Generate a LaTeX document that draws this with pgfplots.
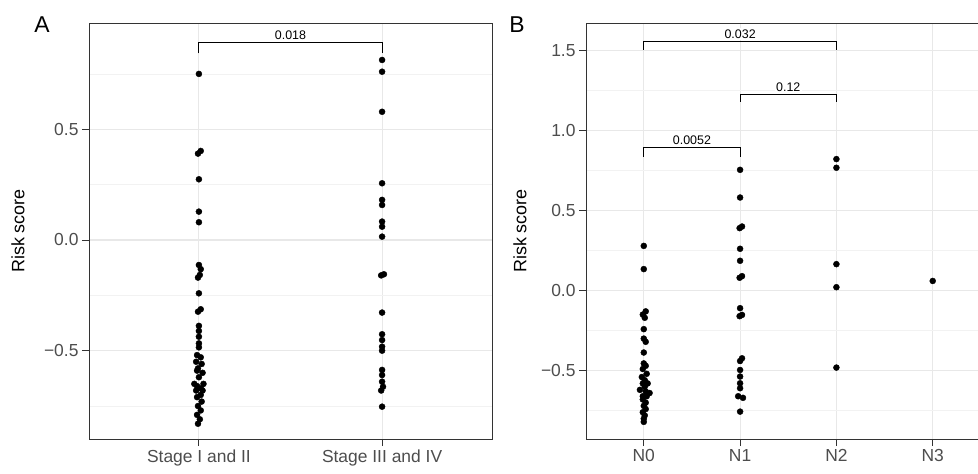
\documentclass[border=0pt]{standalone}
\usepackage{fontspec}
\setmainfont{Liberation Sans}
\usepackage{pgfplots}
\pgfplotsset{compat=1.18}
\definecolor{gridmaj}{RGB}{232,232,232}
\definecolor{gridmin}{RGB}{242,242,242}
\definecolor{tickgray}{RGB}{77,77,77}
\definecolor{border}{RGB}{51,51,51}
\pgfplotsset{
  rsk/.style={
    scale only axis, height=416bp,
    axis line style={border, line width=0.9bp},
    tick style={border, line width=0.9bp},
    major tick length=7bp,
    minor tick length=0pt,
    tick align=outside,
    xtick pos=bottom, ytick pos=left,
    xmajorgrids, ymajorgrids, yminorgrids,
    major grid style={gridmaj, line width=1.1bp},
    minor grid style={gridmin, line width=0.6bp},
    ticklabel style={font=\fontsize{17.5}{20}\selectfont, text=tickgray},
    ylabel style={font=\fontsize{18}{21}\selectfont},
    ylabel={Risk score},
  },
  dots/.style={only marks, mark=*, mark size=3bp, black},
  brk/.style={no marks, sharp plot, black, line width=1bp},
}
\tikzset{pv/.style={font=\fontsize{12.5}{14}\selectfont, fill=white, inner sep=1.5bp, anchor=south, yshift=1bp}}
\begin{document}
\begin{tikzpicture}
\begin{axis}[rsk,
  at={(89bp,35bp)}, anchor=south west,
  width=403bp,
  xmin=0.4, xmax=2.6, ymin=-0.899, ymax=0.980,
  xtick={1,2}, xticklabels={Stage I and II, Stage III and IV},
  ytick={-0.5,0,0.5}, yticklabels={−0.5,0.0,0.5},
  minor ytick={-0.75,-0.25,0.25,0.75},
  every axis y label/.append style={at={(rel axis cs:-0.176,0.5)}, anchor=center},
]
\addplot[dots] coordinates {
(1,0.750) (1.01,0.402) (0.995,0.39) (1,0.274) (1,0.128) (1,0.080)
(1,-0.113) (1.01,-0.132) (1.005,-0.158) (0.995,-0.17) (1,-0.241)
(1.01,-0.313) (0.995,-0.324) (1,-0.388) (1,-0.411) (1,-0.437) (1,-0.467) (1,-0.485)
(0.99,-0.52) (1.01,-0.53) (0.985,-0.55) (1.015,-0.56) (0.995,-0.58) (1.02,-0.60) (0.99,-0.59)
(1,-0.62) (0.975,-0.65) (1.025,-0.65) (0.99,-0.66) (1.01,-0.67) (0.985,-0.68) (1.02,-0.68)
(1.01,-0.70) (0.99,-0.71) (1.015,-0.73) (0.995,-0.75) (1.01,-0.77) (0.99,-0.79) (1.005,-0.81) (0.995,-0.83)
};
\addplot[dots] coordinates {
(2,0.813) (2,0.760) (2,0.579) (2,0.256) (2,0.181) (2,0.158) (2,0.083) (2,0.060) (2,0.015)
(2.01,-0.155) (1.995,-0.16) (2,-0.328) (2,-0.426) (2,-0.452) (2,-0.482) (2,-0.50)
(2,-0.587) (2,-0.61) (2,-0.64) (2.005,-0.663) (1.995,-0.68) (2,-0.753)
};
\addplot[brk] coordinates {(1,0.843) (1,0.894) (2,0.894) (2,0.843)};
\node[pv] at (axis cs:1.5,0.894) {0.018};
\end{axis}
\begin{axis}[rsk,
  at={(586bp,35bp)}, anchor=south west,
  width=404.5bp,
  xmin=0.4, xmax=4.6, ymin=-0.927, ymax=1.671,
  xtick={1,2,3,4}, xticklabels={N0,N1,N2,N3},
  ytick={-0.5,0,0.5,1,1.5}, yticklabels={−0.5,0.0,0.5,1.0,1.5},
  minor ytick={-0.75,-0.25,0.25,0.75,1.25},
  every axis y label/.append style={at={(rel axis cs:-0.163,0.5)}, anchor=center},
]
\addplot[dots] coordinates {
(1,0.279) (1,0.134) (1.02,-0.13) (0.99,-0.15) (1.01,-0.17) (1,-0.241) (1,-0.30) (1.02,-0.32)
(1,-0.387) (1,-0.455) (1.02,-0.47) (0.99,-0.49)
(1.03,-0.52) (0.98,-0.54) (1.01,-0.56) (1.04,-0.58) (0.99,-0.58)
(1.01,-0.60) (0.96,-0.62) (1.02,-0.63) (1.06,-0.64) (0.99,-0.66) (1.03,-0.66)
(0.99,-0.68) (1.02,-0.70) (1,-0.72) (1.02,-0.74) (0.99,-0.76) (1.01,-0.78) (1,-0.80) (1,-0.82)
};
\addplot[dots] coordinates {
(2,0.754) (2,0.581) (2.02,0.40) (1.995,0.39) (2,0.261) (2,0.186) (2.02,0.09) (1.995,0.08)
(2,-0.110) (2.02,-0.152) (1.995,-0.16) (2.02,-0.423) (2,-0.44) (2,-0.496) (2,-0.537)
(2,-0.579) (2,-0.61) (1.98,-0.66) (2.03,-0.67) (2,-0.756)
};
\addplot[dots] coordinates {(3,0.821) (3,0.767) (3,0.165) (3,0.021) (3,-0.481)};
\addplot[dots] coordinates {(4,0.06)};
\addplot[brk] coordinates {(1,1.504) (1,1.556) (3,1.556) (3,1.504)};
\addplot[brk] coordinates {(2,1.178) (2,1.227) (3,1.227) (3,1.178)};
\addplot[brk] coordinates {(1,0.836) (1,0.892) (2,0.892) (2,0.836)};
\node[pv] at (axis cs:2,1.556) {0.032};
\node[pv] at (axis cs:2.5,1.227) {0.12};
\node[pv] at (axis cs:1.5,0.892) {0.0052};
\end{axis}
\node[font=\fontsize{23}{26}\selectfont] at (42bp,449bp) {A};
\node[font=\fontsize{23}{26}\selectfont] at (517bp,449bp) {B};
\pgfresetboundingbox
\useasboundingbox (0,0) rectangle (978bp,474bp);
\end{tikzpicture}
\end{document}
